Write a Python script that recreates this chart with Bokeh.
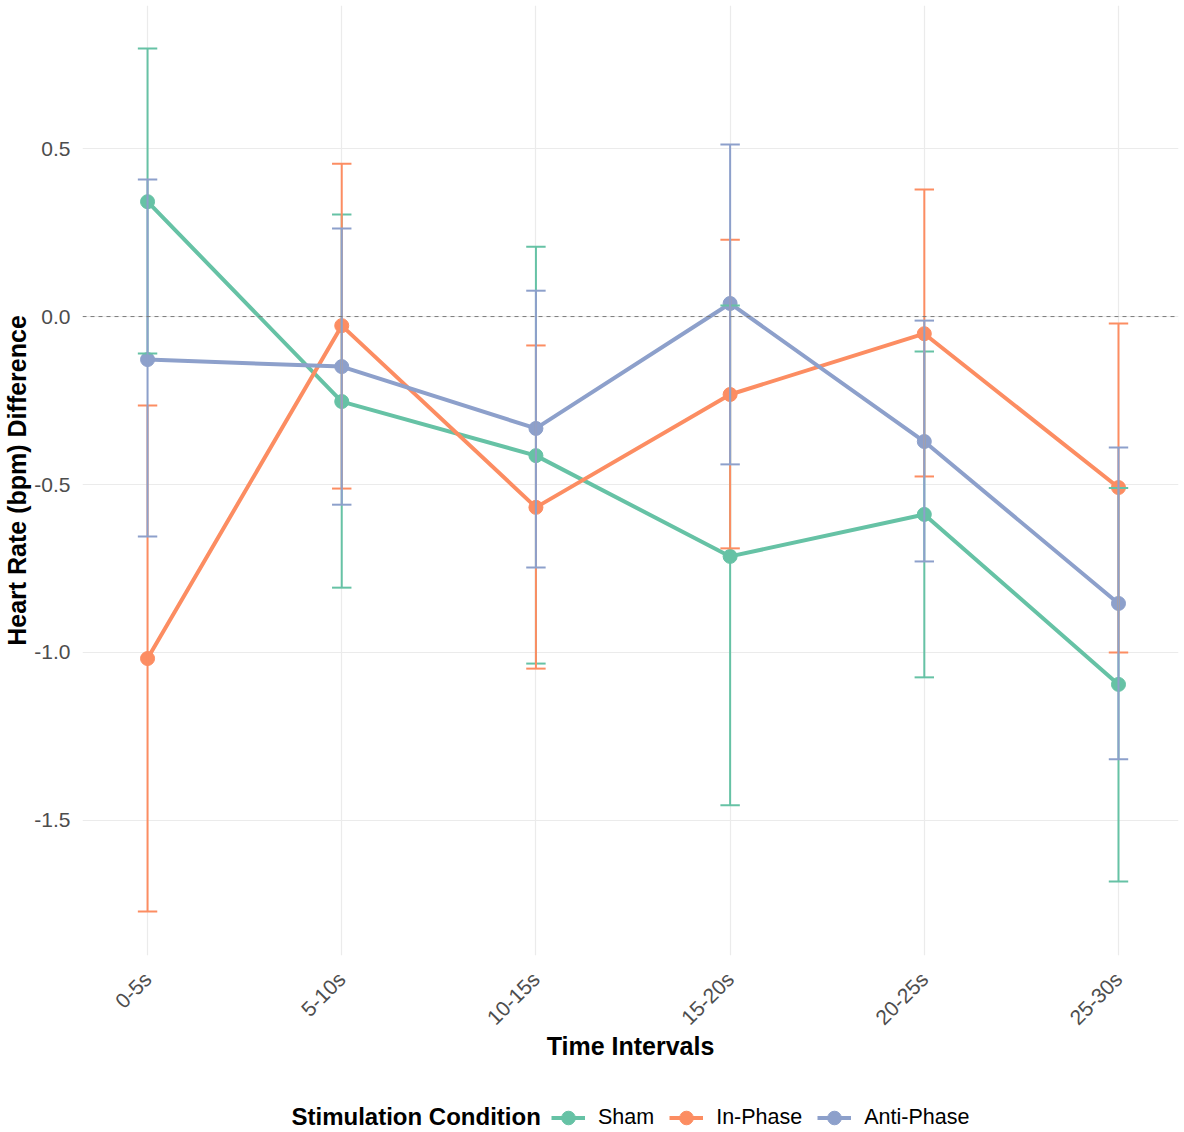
import math
from bokeh.plotting import figure
from bokeh.layouts import column
from bokeh.models import Range1d, FixedTicker, Span, Legend, LegendItem, PrintfTickFormatter, Label
from bokeh.embed import file_html
from bokeh.resources import INLINE

# data
intervals = ["0-5s", "5-10s", "10-15s", "15-20s", "20-25s", "25-30s"]
conditions = ["Sham", "In-Phase", "Anti-Phase"]
colors = ["#66C2A5", "#FC8D62", "#8DA0CB"]

sham_mean = [0.342, -0.253, -0.414, -0.714, -0.589, -1.095]
sham_low = [-0.110, -0.807, -1.033, -1.455, -1.074, -1.682]
sham_high = [0.798, 0.304, 0.208, 0.033, -0.104, -0.510]

inphase_mean = [-1.018, -0.027, -0.568, -0.232, -0.051, -0.509]
inphase_low = [-1.771, -0.512, -1.048, -0.690, -0.476, -1.000]
inphase_high = [-0.265, 0.455, -0.086, 0.229, 0.378, -0.021]

anti_mean = [-0.128, -0.149, -0.333, 0.039, -0.372, -0.854]
anti_low = [-0.655, -0.560, -0.747, -0.440, -0.729, -1.318]
anti_high = [0.408, 0.262, 0.077, 0.512, -0.012, -0.390]

means = [sham_mean, inphase_mean, anti_mean]
lows = [sham_low, inphase_low, anti_low]
highs = [sham_high, inphase_high, anti_high]

xs = list(range(len(intervals)))
cap = 0.05

FONT = "Liberation Sans"
W = 1180

p = figure(width=W, height=1075, output_backend="svg", toolbar_location=None,
           x_range=Range1d(-0.335, 5.309), y_range=Range1d(-1.902, 0.926),
           x_axis_label="Time Intervals", y_axis_label="Heart Rate (bpm) Difference",
           min_border_top=5, min_border_right=2, min_border_left=10, min_border_bottom=120)
p.outline_line_color = None

p.add_layout(Span(location=0, dimension="width", line_color="#7A7A7A",
                  line_dash="4 4", line_width=1))

line_r, pt_r = [], []
for m, c in zip(means, colors):
    line_r.append(p.line(xs, m, line_color=c, line_width=4))
for m, c in zip(means, colors):
    pt_r.append(p.scatter(xs, m, size=14, fill_color=c, line_color=c))
for lo, hi, c in zip(lows, highs, colors):
    p.segment(xs, lo, xs, hi, line_color=c, line_width=2)
    p.segment([x - cap for x in xs], hi, [x + cap for x in xs], hi, line_color=c, line_width=2)
    p.segment([x - cap for x in xs], lo, [x + cap for x in xs], lo, line_color=c, line_width=2)

# axes
p.xaxis.ticker = FixedTicker(ticks=xs)
p.xaxis.major_label_overrides = {i: lab for i, lab in enumerate(intervals)}
p.xaxis.major_label_orientation = math.pi / 4
p.yaxis.ticker = FixedTicker(ticks=[-1.5, -1.0, -0.5, 0.0, 0.5])
p.yaxis.formatter = PrintfTickFormatter(format="%.1f")
for ax in (p.xaxis, p.yaxis):
    ax.axis_line_color = None
    ax.major_tick_line_color = None
    ax.minor_tick_line_color = None
    ax.major_label_text_font = FONT
    ax.major_label_text_font_size = "21px"
    ax.major_label_text_color = "#4D4D4D"
    ax.axis_label_text_font = FONT
    ax.axis_label_text_font_size = "25px"
    ax.axis_label_text_font_style = "bold"
    ax.axis_label_text_color = "black"
p.xaxis.major_label_standoff = 14
p.xaxis.axis_label_standoff = -8
p.yaxis.major_label_standoff = 6
p.yaxis.axis_label_standoff = 0

p.xgrid.ticker = FixedTicker(ticks=xs)
p.xgrid.grid_line_color = "#EBEBEB"
p.ygrid.grid_line_color = "#EBEBEB"
p.xgrid.grid_line_width = 1.2
p.ygrid.grid_line_width = 1.2

# legend strip under the chart: title on the left, keys to the right
# (its frame is aligned with the chart frame by the column layout)
q = figure(width=W, height=55, output_backend="svg", toolbar_location=None,
           x_range=Range1d(0, W), y_range=Range1d(0, 55),
           x_axis_location=None, y_axis_location=None,
           min_border_top=0, min_border_right=0, min_border_left=0, min_border_bottom=0)
q.outline_line_color = None
q.xgrid.visible = False
q.ygrid.visible = False

nan = float("nan")
key_r = []
for c in colors:
    kl = q.line([nan], [nan], line_color=c, line_width=4)
    ks = q.scatter([nan], [nan], size=14, fill_color=c, line_color=c)
    key_r.append([kl, ks])

items = [LegendItem(label=name, renderers=r) for name, r in zip(conditions, key_r)]
legend = Legend(items=items, orientation="horizontal", location=(469, -5),
                label_text_font=FONT, label_text_font_size="21.5px", label_text_color="black",
                glyph_width=34, glyph_height=35, label_height=20, label_standoff=13, spacing=15,
                border_line_color=None, background_fill_alpha=0, margin=0, padding=2)
q.add_layout(legend)
q.add_layout(Label(x=209, y=14, x_units="screen", y_units="screen",
                   text="Stimulation Condition", text_font=FONT, text_font_size="24px",
                   text_font_style="bold", text_baseline="middle", text_color="black"))

open("out.html", "w").write(file_html(column(p, q, spacing=0), INLINE))
